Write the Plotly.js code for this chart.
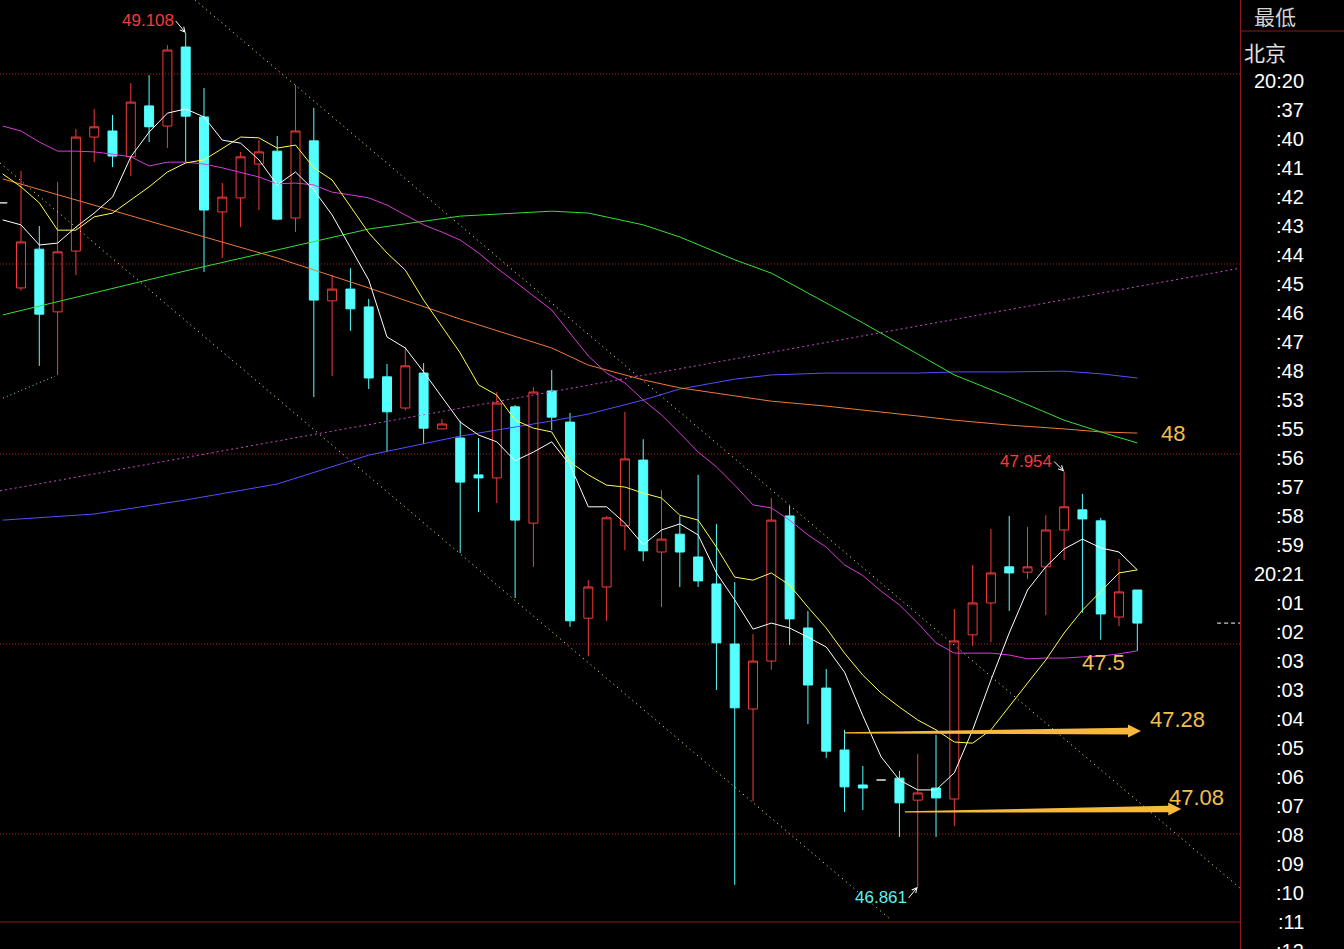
<!DOCTYPE html>
<html><head><meta charset="utf-8">
<script src="https://cdn.plot.ly/plotly-3.0.1.min.js"></script>
<style>html,body{margin:0;padding:0;background:#000;overflow:hidden}#chart{width:1344px;height:949px}</style>
</head><body><div id="chart"></div>
<script>
// ---------- data ----------
const candleIdx = [0,1,2,3,4,5,6,7,8,9,10,11,12,13,14,15,16,17,18,19,20,21,22,23,24,25,26,27,28,29,30,31,32,33,34,35,36,37,38,39,40,41,42,43,44,45,46,47,48,49,50,51,52,53,54,55,56,57,58,59,60,61,62];
const openP  = [48.661,48.437,48.539,48.374,48.534,48.834,48.85,48.782,48.916,48.863,49.071,48.887,48.637,48.674,48.763,48.797,48.621,48.824,48.403,48.434,48.387,48.203,48.121,48.213,48.066,48.042,47.945,47.937,48.124,47.818,48.166,48.084,47.568,47.65,47.811,47.984,47.742,47.789,47.729,47.658,47.5,47.329,47.455,47.837,47.542,47.384,47.221,47.129,47.142,47.147,47.089,47.121,47.092,47.524,47.608,47.703,47.689,47.703,47.8,47.853,47.824,47.571,47.642];
const highP  = [48.661,48.745,48.6,48.716,48.855,48.908,48.892,48.976,48.997,49.076,49.108,48.963,48.713,48.795,48.826,48.837,48.971,48.911,48.471,48.489,48.408,48.237,48.282,48.239,48.092,48.087,48.042,48.163,48.129,48.176,48.221,48.108,47.668,47.837,48.111,48.039,47.905,47.837,47.945,47.816,47.663,47.526,47.884,47.863,47.587,47.434,47.274,47.179,47.142,47.166,47.211,47.261,47.592,47.708,47.803,47.837,47.808,47.839,47.954,47.895,47.832,47.724,47.642];
const lowP   = [48.661,48.43,48.232,48.208,48.471,48.768,48.755,48.732,48.821,48.805,48.768,48.479,48.516,48.597,48.642,48.615,48.584,48.15,48.205,48.324,48.171,48.005,48.115,48.026,48.066,47.739,47.847,47.871,47.621,47.703,48.063,47.545,47.468,47.561,47.747,47.718,47.597,47.65,47.65,47.379,46.866,47.087,47.432,47.497,47.289,47.2,47.058,47.063,47.142,46.992,46.861,46.992,47.021,47.495,47.505,47.587,47.671,47.576,47.721,47.582,47.511,47.547,47.482];
const closeP = [48.661,48.558,48.368,48.532,48.834,48.861,48.784,48.926,48.861,49.063,48.889,48.642,48.676,48.782,48.795,48.618,48.85,48.405,48.434,48.382,48.2,48.111,48.232,48.068,48.079,47.926,47.937,48.134,47.826,48.163,48.097,47.561,47.65,47.832,47.987,47.745,47.776,47.742,47.666,47.503,47.332,47.455,47.826,47.566,47.392,47.218,47.124,47.121,47.142,47.082,47.108,47.095,47.508,47.608,47.687,47.687,47.703,47.8,47.861,47.829,47.579,47.637,47.555];

// short / medium moving averages, one value per candle
const maWhite   = [48.616,48.603,48.55,48.555,48.597,48.634,48.676,48.782,48.847,48.897,48.908,48.887,48.826,48.818,48.774,48.708,48.742,48.695,48.629,48.545,48.458,48.308,48.279,48.216,48.15,48.084,48.05,48.032,47.982,48.005,48.032,47.971,47.861,47.861,47.818,47.761,47.8,47.816,47.787,47.687,47.616,47.539,47.555,47.542,47.518,47.492,47.426,47.311,47.203,47.142,47.116,47.116,47.161,47.274,47.405,47.529,47.642,47.703,47.75,47.776,47.753,47.742,47.695];
const maYellow  = [48.737,48.703,48.661,48.589,48.589,48.624,48.634,48.668,48.703,48.742,48.766,48.774,48.805,48.834,48.832,48.805,48.813,48.753,48.721,48.65,48.582,48.529,48.484,48.405,48.334,48.266,48.182,48.155,48.089,48.068,48.058,47.979,47.945,47.918,47.913,47.897,47.884,47.839,47.826,47.755,47.676,47.668,47.687,47.655,47.597,47.542,47.476,47.418,47.371,47.334,47.3,47.274,47.242,47.239,47.274,47.334,47.397,47.458,47.529,47.589,47.637,47.687,47.695];
const maMagenta = [48.863,48.85,48.821,48.797,48.797,48.795,48.789,48.782,48.758,48.768,48.768,48.763,48.753,48.742,48.729,48.711,48.713,48.708,48.689,48.682,48.674,48.655,48.629,48.603,48.584,48.563,48.529,48.489,48.453,48.416,48.379,48.318,48.258,48.213,48.187,48.142,48.103,48.055,48.005,47.966,47.918,47.866,47.858,47.826,47.787,47.755,47.708,47.68,47.639,47.603,47.555,47.503,47.476,47.476,47.476,47.471,47.461,47.463,47.463,47.466,47.468,47.474,47.482];

// long moving averages, read at selected candles
const longIdx  = [0,5,10,15,20,25,30,32,35,37,40,42,45,47,50,52,55,58,60,62];
const maGreen  = [48.366,48.424,48.482,48.537,48.592,48.626,48.639,48.634,48.603,48.571,48.511,48.476,48.397,48.345,48.263,48.208,48.15,48.089,48.058,48.029];
const maOrange = [48.724,48.655,48.587,48.516,48.437,48.355,48.279,48.234,48.195,48.174,48.153,48.139,48.126,48.116,48.1,48.089,48.076,48.066,48.058,48.055];
const maBlue   = [47.826,47.842,47.879,47.921,47.997,48.047,48.087,48.105,48.142,48.171,48.197,48.208,48.213,48.213,48.213,48.216,48.216,48.218,48.211,48.2];

// drawn trend lines (two end points each: candle index, price)
const chanUpperK = [10.5, 67.6],    chanUpperP = [49.195, 46.858];
const chanLowerK = [-0.15, 48.54],  chanLowerP = [48.766, 46.774];
const trendMagK  = [-0.15, 67.61],  trendMagP  = [47.903, 48.489];
const trendCyanK = [0.02, 2.86],    trendCyanP = [48.147, 48.205];

// drawn arrows
const arrowTailK = [46.0, 49.3],  arrowTailP = [47.266, 47.058];
const arrowTipK  = [62.2, 64.4],  arrowTipP  = [47.271, 47.066];

// gold notes
const noteText  = ['48', '47.5', '47.28', '47.08'];
const noteK     = [63.95, 60.13, 64.17, 65.26];
const noteP     = [48.055, 47.45, 47.30, 47.097];

// extreme-price labels
const extremeText = ['49.108', '47.954', '46.861'];
const extremeK    = [10, 58, 50];
const extremeP    = [49.108, 47.954, 46.861];

// right panel labels
const panelHeader = '最低';
const panelCity   = '北京';
const timeLabels  = ['20:20',':37',':40',':41',':42',':43',':44',':45',':46',':47',':48',':53',':55',':56',':57',':58',':59','20:21',':01',':02',':03',':03',':04',':05',':06',':07',':08',':09',':10',':11',':12'];

const gridLevels = [47, 47.5, 48, 48.5, 49];

// ---------- styling / geometry ----------
const W = 1344, H = 949, MR = 104, MB = 27;
const PW = W - MR, PH = H - MB;
const X0 = -0.1475, X1 = 67.61, Y0 = 46.7684, Y1 = 49.1947;
const RED = '#f23b3b', CYAN = '#54ffff', GOLD = '#f6b93b', GOLDTXT = '#f0bf4c', FRAME = '#8e1a1a';

// split candles
const groups = {up:{k:[],o:[],h:[],l:[],c:[]}, dn:{k:[],o:[],h:[],l:[],c:[]}, flat:{k:[],o:[],h:[],l:[],c:[]}};
candleIdx.forEach((k,i)=>{
  const g = closeP[i] > openP[i] ? groups.up : (closeP[i] < openP[i] ? groups.dn : groups.flat);
  g.k.push(k); g.o.push(openP[i]); g.h.push(highP[i]); g.l.push(lowP[i]); g.c.push(closeP[i]);
});
function cs(g, color, fill){
  return {type:'candlestick', x:g.k, open:g.o, high:g.h, low:g.l, close:g.c, whiskerwidth:0,
    increasing:{line:{color:color,width:1}, fillcolor:fill},
    decreasing:{line:{color:color,width:1}, fillcolor:fill},
    hoverinfo:'skip', showlegend:false};
}
function ln(x, y, color, dash){
  return {type:'scatter', mode:'lines', x:x, y:y, line:{color:color, width:1, dash:dash||'solid'}, hoverinfo:'skip', showlegend:false};
}

const traces = [
  cs(groups.up, RED, 'rgba(0,0,0,0)'),
  cs(groups.dn, CYAN, CYAN),
  cs(groups.flat, '#c8c8c8', '#c8c8c8'),
  ln(trendMagK, trendMagP, '#d048d0', '2px,3px'),
  ln(chanUpperK, chanUpperP, '#ffffa0', '1px,4px'),
  ln(chanLowerK, chanLowerP, '#ffffa0', '1px,4px'),
  ln(trendCyanK, trendCyanP, '#7fe0e0', '1px,3px'),
  ln(longIdx, maBlue, '#5a4cff'),
  ln(longIdx, maOrange, '#ec7a3a'),
  ln(longIdx, maGreen, '#36e036'),
  ln(candleIdx, maMagenta, '#d83ad8'),
  ln(candleIdx, maYellow, '#ffff50'),
  ln(candleIdx, maWhite, '#ffffff')
];

// arrow polygons
const kPerPx = (X1-X0)/PW, pPerPx = (Y1-Y0)/PH;
function arrowPath(k0,p0,k1,p1){
  const x0=(k0-X0)/kPerPx, y0=(Y1-p0)/pPerPx, x1=(k1-X0)/kPerPx, y1=(Y1-p1)/pPerPx;
  const headLen=13, headHalf=6.5, tailHalf=0.6, neckHalf=3.3;
  const a=Math.atan2(y1-y0,x1-x0), ux=Math.cos(a), uy=Math.sin(a), nx=-uy, ny=ux;
  const bx=x1-ux*headLen, by=y1-uy*headLen;
  const pts=[[x0+nx*tailHalf,y0+ny*tailHalf],[bx+nx*neckHalf,by+ny*neckHalf],[bx+nx*headHalf,by+ny*headHalf],[x1,y1],
             [bx-nx*headHalf,by-ny*headHalf],[bx-nx*neckHalf,by-ny*neckHalf],[x0-nx*tailHalf,y0-ny*tailHalf]];
  return 'M'+pts.map(p=>(X0+p[0]*kPerPx).toFixed(4)+','+(Y1-p[1]*pPerPx).toFixed(5)).join('L')+'Z';
}
const shapes = [];
// red dotted grid drawn as shapes at the grid levels
gridLevels.forEach(v=>shapes.push({type:'line', xref:'paper', yref:'y', x0:0, x1:1, y0:v, y1:v, layer:'below', line:{color:'#a82222', width:1, dash:'1px,2px'}}));
arrowTailK.forEach((_,i)=>{
  shapes.push({type:'path', xref:'x', yref:'y', path:arrowPath(arrowTailK[i],arrowTailP[i],arrowTipK[i],arrowTipP[i]), fillcolor:GOLD, line:{width:0}});
});
// last price marker
shapes.push({type:'line', xref:'x', yref:'y', x0:X1-1.25, x1:X1, y0:closeP[closeP.length-1], y1:closeP[closeP.length-1], line:{color:'#ffffff', width:1, dash:'4px,3px'}});
// frame lines
shapes.push({type:'line', xref:'paper', yref:'paper', x0:(PW+0.5)/PW, x1:(PW+0.5)/PW, y0:1, y1:-MB/PH, line:{color:FRAME, width:1}});
shapes.push({type:'line', xref:'paper', yref:'paper', x0:(PW+0.5)/PW, x1:W/PW, y0:1-31/PH, y1:1-31/PH, line:{color:FRAME, width:1}});
shapes.push({type:'line', xref:'paper', yref:'paper', x0:0, x1:(PW+0.5)/PW, y0:0, y1:0, line:{color:FRAME, width:1}});

const annotations = [];
noteText.forEach((t,i)=>annotations.push({x:noteK[i], y:noteP[i], xref:'x', yref:'y', text:t, showarrow:false,
  font:{family:'Liberation Sans, Arial', size:22, color:GOLDTXT}, xanchor:'center', yanchor:'middle'}));
const exOff = [[-10,-12],[-10,-10],[-9,11]];
const exCol = [RED, RED, '#5cf0f0'];
extremeText.forEach((t,i)=>annotations.push({x:extremeK[i], y:extremeP[i], xref:'x', yref:'y', text:t,
  showarrow:true, ax:exOff[i][0], ay:exOff[i][1], arrowhead:5, arrowsize:1, arrowwidth:1, arrowcolor:'#ffffff',
  xanchor:'right', yanchor:'middle', font:{family:'Liberation Sans, Arial', size:17, color:exCol[i]}}));
annotations.push({xref:'paper', yref:'paper', x:1275/PW, y:1-16/PH, text:panelHeader, showarrow:false,
  font:{family:'Noto Sans CJK SC', size:21, color:'#d4d4d4'}, xanchor:'center', yanchor:'middle'});
annotations.push({xref:'paper', yref:'paper', x:1242/PW, y:1-52/PH, text:panelCity, showarrow:false,
  font:{family:'Noto Sans CJK SC', size:21, color:'#e0e0e0'}, xanchor:'left', yanchor:'middle'});
timeLabels.forEach((t,i)=>annotations.push({xref:'paper', yref:'paper', x:1306/PW, y:1-(81+29*i)/PH, text:t, showarrow:false,
  font:{family:'Liberation Sans, Arial', size:20, color:'#ffffff'}, xanchor:'right', yanchor:'middle'}));

const layout = {
  width:W, height:H, margin:{l:0, r:MR, t:0, b:MB, pad:0},
  paper_bgcolor:'#000', plot_bgcolor:'#000', showlegend:false, boxgap:0.3,
  xaxis:{range:[X0,X1], showgrid:false, zeroline:false, showticklabels:false, ticks:'', showline:false, rangeslider:{visible:false}, fixedrange:true},
  yaxis:{range:[Y0,Y1], showticklabels:false, ticks:'', showgrid:false, zeroline:false, showline:false, fixedrange:true},
  shapes:shapes, annotations:annotations, hovermode:false
};
Plotly.newPlot('chart', traces, layout, {staticPlot:true, displayModeBar:false});
</script>
</body></html>
